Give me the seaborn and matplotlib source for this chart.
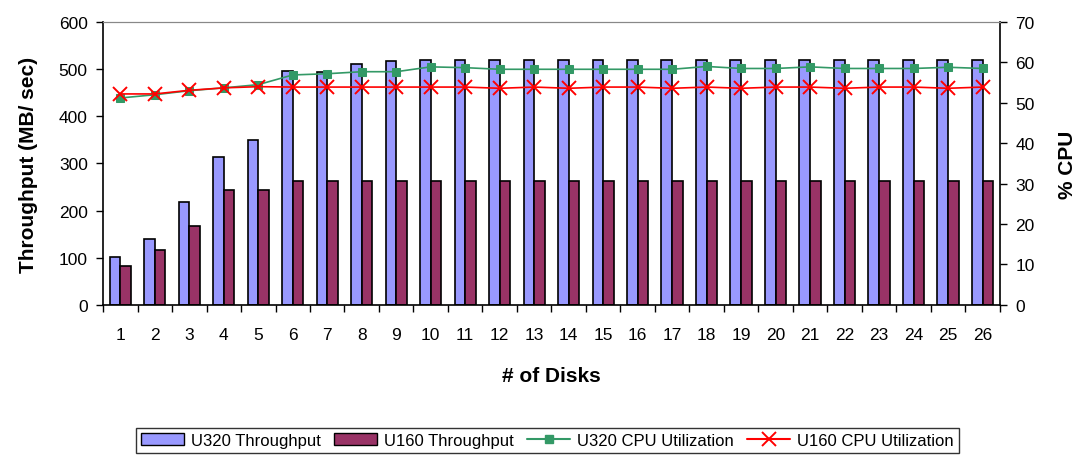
import numpy as np
import pandas as pd
import seaborn as sns
import matplotlib.pyplot as plt
from matplotlib.ticker import FixedLocator
from matplotlib.patches import Patch
from matplotlib.lines import Line2D

disks = list(range(1, 27))
u320_tp = [102, 140, 218, 313, 350, 496, 493, 511, 517, 520, 520, 520, 520,
           520, 520, 520, 520, 520, 520, 520, 520, 520, 520, 520, 520, 520]
u160_tp = [83, 117, 167, 244, 244, 263, 263, 263, 263, 263, 263, 263, 263,
           263, 263, 263, 263, 263, 263, 263, 263, 263, 263, 263, 263, 263]
u320_cpu = [51.2, 52.0, 53.0, 53.7, 54.5, 56.9, 57.2, 57.7, 57.7, 58.9, 58.7, 58.3, 58.3,
            58.3, 58.3, 58.3, 58.3, 59.0, 58.5, 58.5, 58.9, 58.5, 58.5, 58.5, 58.8, 58.5]
u160_cpu = [52.2, 52.2, 53.1, 53.7, 54.0, 53.9, 53.9, 53.9, 53.9, 53.9, 53.9, 53.6, 53.9,
            53.6, 53.9, 53.9, 53.6, 53.9, 53.6, 53.9, 53.9, 53.6, 53.9, 53.9, 53.6, 53.9]

sns.set_style("white")
plt.rcParams["font.family"] = ["Liberation Sans", "DejaVu Sans"]
plt.rcParams.update({"text.color": "black", "axes.labelcolor": "black",
                     "xtick.color": "black", "ytick.color": "black"})

bars = pd.DataFrame({
    "disks": disks * 2,
    "tp": u320_tp + u160_tp,
    "series": ["U320 Throughput"] * 26 + ["U160 Throughput"] * 26,
})

fig = plt.figure(figsize=(10.88, 4.6), dpi=100)
ax = fig.add_axes([0.0947, 0.335, 0.8243, 0.615])

sns.barplot(data=bars, x="disks", y="tp", hue="series", ax=ax,
            palette=["#9999FF", "#993366"], saturation=1, width=0.62,
            edgecolor="black", linewidth=1.2, legend=False)

ax.set_ylim(0, 600)
ax.set_yticks(range(0, 601, 100))
ax.set_xlim(-0.5, 25.5)
ax.set_xlabel("# of Disks", fontsize=15, fontweight="bold", labelpad=17)
ax.set_ylabel("Throughput (MB/ sec)", fontsize=15, fontweight="bold", labelpad=15)
ax.tick_params(axis="y", labelsize=12.5, length=5, width=1, direction="out", left=True, pad=6)
ax.tick_params(axis="x", which="major", labelsize=12.5, length=0, pad=16)
ax.xaxis.set_minor_locator(FixedLocator(np.arange(-0.5, 26, 1)))
ax.tick_params(axis="x", which="minor", length=5, width=1, direction="out", bottom=True)
for s in ["left", "bottom"]:
    ax.spines[s].set_color("black")
    ax.spines[s].set_linewidth(1.2)
ax.spines["top"].set_color("#888888")
ax.spines["right"].set_visible(False)

ax2 = ax.twinx()
x = np.arange(len(disks))
sns.lineplot(x=x, y=u320_cpu, ax=ax2, color="#339966", marker="s", markersize=6,
             markeredgecolor="#339966", markerfacecolor="#339966", linewidth=1.2,
             legend=False)
sns.lineplot(x=x, y=u160_cpu, ax=ax2, color="#FF0000", marker="x", markersize=10,
             markeredgecolor="#FF0000", markeredgewidth=1.4, linewidth=1.2,
             legend=False)
ax2.set_ylim(0, 70)
ax2.set_yticks(range(0, 71, 10))
ax2.set_xlim(-0.5, 25.5)
ax2.set_ylabel("% CPU", fontsize=15, fontweight="bold", labelpad=17)
ax2.tick_params(axis="y", labelsize=12.5, length=5, width=1, direction="out", right=True, pad=6)
ax2.spines["right"].set_color("black")
ax2.spines["right"].set_linewidth(1.2)
ax2.spines["top"].set_color("#888888")
for s in ["left", "bottom"]:
    ax2.spines[s].set_visible(False)

handles = [
    Patch(facecolor="#9999FF", edgecolor="black", label="U320 Throughput"),
    Patch(facecolor="#993366", edgecolor="black", label="U160 Throughput"),
    Line2D([], [], color="#339966", marker="s", markersize=6, label="U320 CPU Utilization"),
    Line2D([], [], color="#FF0000", marker="x", markersize=10, markeredgewidth=1.4,
           label="U160 CPU Utilization"),
]
leg = fig.legend(handles=handles, loc="lower center", bbox_to_anchor=(0.503, -0.005), ncol=4,
                 fontsize=12, frameon=True, fancybox=False, edgecolor="black",
                 handlelength=2.6, columnspacing=0.8, handletextpad=0.4, borderpad=0.3)
leg.get_frame().set_linewidth(1.0)

fig.savefig("out.png", dpi=100)
